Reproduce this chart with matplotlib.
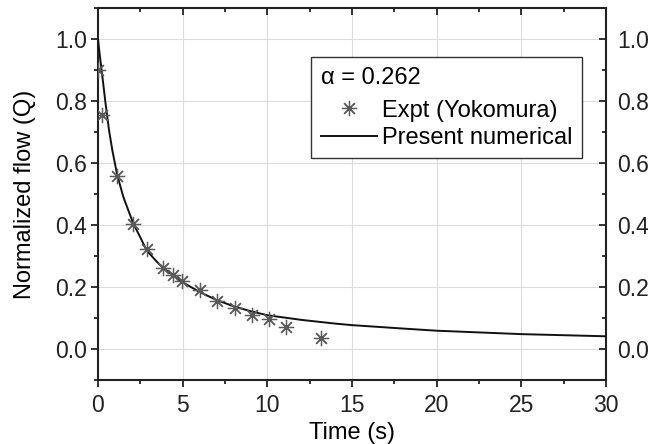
import matplotlib
matplotlib.use("Agg")
import matplotlib.pyplot as plt
from matplotlib.ticker import MultipleLocator

plt.rcParams['font.family'] = ['Liberation Sans', 'DejaVu Sans']

# Experimental data (Yokomura)
expt_t = [0.02, 0.22, 1.14, 2.08, 2.87, 3.86, 4.45, 4.98, 6.02, 7.03, 8.09, 9.10, 10.07, 11.10, 13.17]
expt_q = [0.90, 0.755, 0.558, 0.403, 0.322, 0.262, 0.239, 0.219, 0.190, 0.155, 0.131, 0.110, 0.096, 0.072, 0.034]

# Present numerical curve
num_t = [0.0, 0.05, 0.1, 0.2, 0.3, 0.45, 0.65, 0.85, 1.14, 1.5, 2.08, 2.5, 2.87, 3.5, 4.0, 5.0, 6.0, 7.0,
         8.0, 9.0, 10.0, 12.0, 14.0, 15.0, 18.0, 20.0, 25.0, 30.0]
num_q = [1.0, 0.975, 0.95, 0.905, 0.86, 0.79, 0.706, 0.64, 0.56, 0.49, 0.405, 0.36, 0.318, 0.28, 0.255,
         0.215, 0.184, 0.158, 0.138, 0.122, 0.109, 0.094, 0.082, 0.077, 0.066, 0.059, 0.048, 0.041]

legend_title = "\u03b1 = 0.262"
labels = ["Expt (Yokomura)", "Present numerical"]

FS = 17
TFS = 16.5

fig = plt.figure(figsize=(6.48, 4.44), dpi=100)
ax = fig.add_axes([98/648, 1 - 380/444, 508/648, 372/444])

ax.plot(num_t, num_q, color='#111111', lw=1.4, label=labels[1], zorder=3)
ax.plot(expt_t, expt_q, ls='none', marker=(8, 2, 0), ms=11, mew=0.9, color='#5a5a5a',
        label=labels[0], zorder=4)

ax.set_xlim(0, 30)
ax.set_ylim(-0.1, 1.1)
ax.xaxis.set_major_locator(MultipleLocator(5))
ax.xaxis.set_minor_locator(MultipleLocator(2.5))
ax.yaxis.set_major_locator(MultipleLocator(0.2))
ax.yaxis.set_minor_locator(MultipleLocator(0.1))
ax.yaxis.set_major_formatter(matplotlib.ticker.FormatStrFormatter('%.1f'))

ax.grid(True, which='major', color='#dcdcdc', lw=0.8)
ax.set_axisbelow(True)

for s in ax.spines.values():
    s.set_linewidth(1.5)
    s.set_color('#222222')

ax.tick_params(which='both', labelsize=TFS, colors='#222222', width=1.3)
ax.tick_params(axis='x', which='both', top=True, direction='out')
ax.tick_params(axis='y', which='both', right=True, labelright=True, direction='out')
ax.tick_params(which='major', length=5)
ax.tick_params(which='minor', length=3)
ax.tick_params(axis='x', which='major', pad=5)
ax.tick_params(axis='y', which='major', pad=3)
# top and right ticks point inward
for t in ax.xaxis.get_major_ticks() + ax.xaxis.get_minor_ticks():
    t.tick2line.set_marker(3)  # TICKDOWN
for t in ax.yaxis.get_major_ticks() + ax.yaxis.get_minor_ticks():
    t.tick2line.set_marker(0)  # TICKLEFT

ax.set_xlabel("Time (s)", fontsize=FS, labelpad=4)
ax.set_ylabel("Normalized flow (Q)", fontsize=FS, labelpad=14)

h, l = ax.get_legend_handles_labels()
leg = ax.legend([h[1], h[0]], [l[1], l[0]], title=legend_title, title_fontsize=FS, fontsize=FS,
                alignment='left', loc='upper right', bbox_to_anchor=(0.953, 0.868),
                borderaxespad=0, frameon=True, fancybox=False, edgecolor='#333333', framealpha=1,
                handlelength=2.4, handletextpad=0.2, borderpad=0.4, labelspacing=0.22)
leg.get_title().set_linespacing(1.0)
leg._legend_box.sep = 8
leg.get_frame().set_linewidth(1.0)

fig.savefig("out.png", dpi=100)
